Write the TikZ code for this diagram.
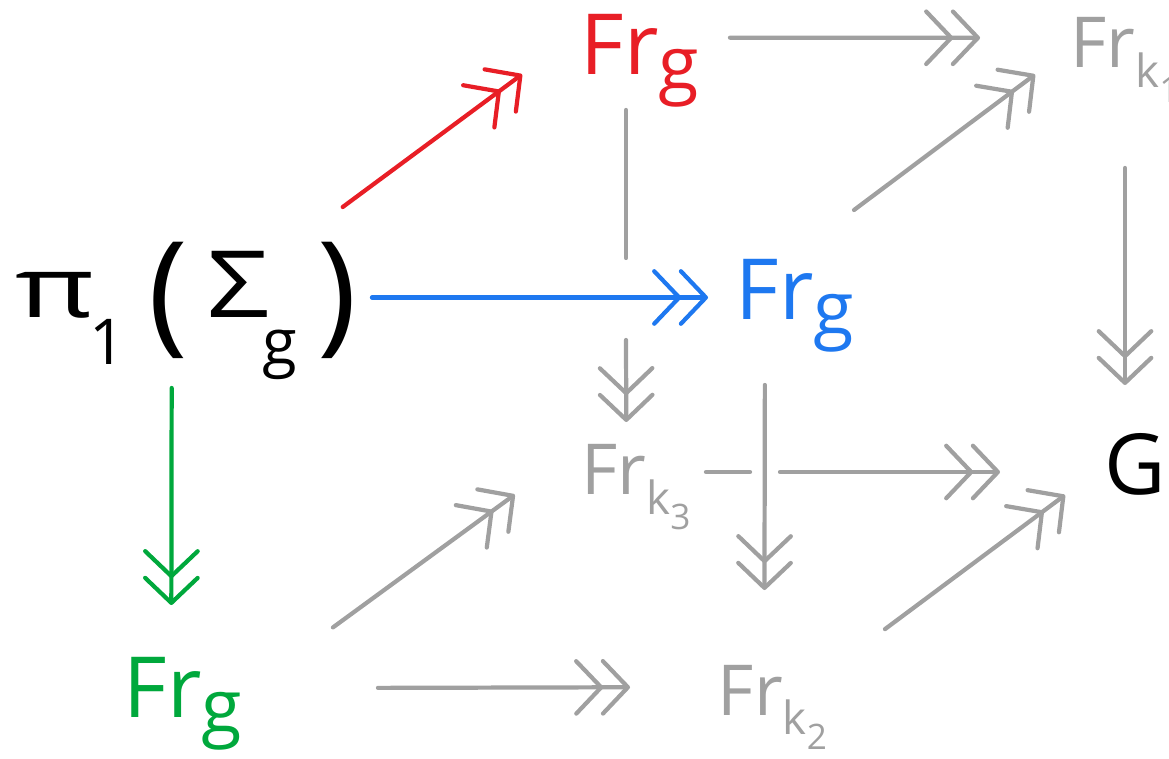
\documentclass[tikz,border=0pt]{standalone}
\usepackage{fontspec}
\setmainfont{Open Sans}
\usetikzlibrary{arrows.meta}
\definecolor{inkred}{RGB}{232,30,38}
\definecolor{inkblue}{RGB}{30,120,240}
\definecolor{inkgreen}{RGB}{0,168,60}
\definecolor{mute}{RGB}{160,160,160}
\tikzset{
  cell/.style={inner sep=0pt,outer sep=0pt,text depth=0pt},
  bigtxt/.style={font=\fontsize{48pt}{56pt}\selectfont},
  midtxt/.style={font=\fontsize{40pt}{48pt}\selectfont,text=mute},
  seg/.style={line width=2.4pt,line cap=round},
  arr/.style={seg,-{Straight Barb[length=5mm,width=10.5mm,sep=-0.5mm,round]
    Straight Barb[length=5mm,width=10.5mm,round]}},
}
\newcommand{\subg}{\raisebox{-0.3cm}{\fontsize{42pt}{46pt}\selectfont g}}
\newcommand{\subk}[1]{\raisebox{-0.4cm}{\fontsize{26pt}{30pt}\selectfont
  k\raisebox{-0.3cm}{\fontsize{20pt}{24pt}\selectfont #1}}}
\newcommand{\subpi}[1]{\raisebox{-0.95cm}{\fontsize{36pt}{40pt}\selectfont #1}}
\newcommand{\bigpar}[1]{\raisebox{-0.4cm}{\fontsize{76pt}{76pt}\selectfont #1}}
\begin{document}
\begin{tikzpicture}[x=0.02cm,y=-0.02cm]
  \useasboundingbox (0,0) rectangle (1169,759);
  \clip (0,0) rectangle (1169,759);
  % the eight corners
  \node[cell,bigtxt,minimum width=7.44cm,minimum height=3.62cm,text height=0.8cm]
    (pis) at (186,297.5) {\scalebox{1.45}[1]{π}\hspace{-0.1cm}\subpi{1}\hspace{0.45cm}%
      \bigpar{(}\hspace{0.4cm}\scalebox{1.3}[1.1]{Σ}\hspace{-0.15cm}\subpi{g}%
      \hspace{0.4cm}\bigpar{)}};
  \node[cell,bigtxt,text=inkred,minimum width=4.16cm,minimum height=2.16cm,text height=0.76cm]
    (frr) at (626,56) {\hspace{0.56cm}Fr\subg};
  \node[cell,bigtxt,text=inkblue,minimum width=3.48cm,minimum height=3.5cm,text height=0.9cm]
    (frb) at (795,297.5) {Fr\subg};
  \node[cell,bigtxt,text=inkgreen,minimum width=6cm,minimum height=3.32cm,text height=1.2cm]
    (frg) at (183,688) {Fr\subg};
  \node[cell,midtxt,minimum width=3.6cm,minimum height=4.44cm,text height=0.44cm]
    (fk1) at (1125,57) {Fr\subk{1}};
  \node[cell,midtxt,minimum width=4.5cm,minimum height=4.6cm,text height=0.4cm]
    (fk2) at (772.5,705) {Fr\subk{2}};
  \node[cell,midtxt,minimum width=2.8cm,minimum height=2cm,text height=0.92cm]
    (fk3) at (636,472) {Fr\subk{3}};
  \node[cell,bigtxt,minimum width=2.4cm,minimum height=3.48cm,text height=0.92cm]
    (grp) at (1125,472) {\hspace{0.4cm}G};
  % where lines pass behind others
  \coordinate (cutA) at (626,258);
  \coordinate (cutB) at (626,340);
  \coordinate (cutC) at (750,472);
  \coordinate (cutD) at (780,472);
  % coloured maps
  \draw[arr,inkred] (pis.30) -- (frr.190);
  \draw[arr,inkblue] (pis.east) -- (frb.west);
  \draw[arr,inkgreen] (pis.261) -- (frg.98);
  % grey cube
  \draw[arr,mute,shorten >=1.1cm] (frr.10) -- (fk1.168);
  \draw[seg,mute] (frr.south) -- (cutA);
  \draw[arr,mute] (cutB) -- (fk3.101);
  \draw[arr,mute] (frb.56) -- (fk1.191);
  \draw[arr,mute] (fk1.south) -- (grp.north);
  \draw[seg,mute] (fk3.east) -- (cutC);
  \draw[arr,mute,shorten >=1.3cm] (cutD) -- (grp.west);
  \draw[arr,mute] (frb.251) -- (fk2.94);
  \draw[arr,mute,shorten >=1.27cm] (frg.22) -- (fk3.168);
  \draw[arr,mute,shorten <=0.9cm,shorten >=0.6cm] (frg.east) -- (fk2.171);
  \draw[arr,mute] (fk2.34) -- (grp.201);
\end{tikzpicture}
\end{document}
